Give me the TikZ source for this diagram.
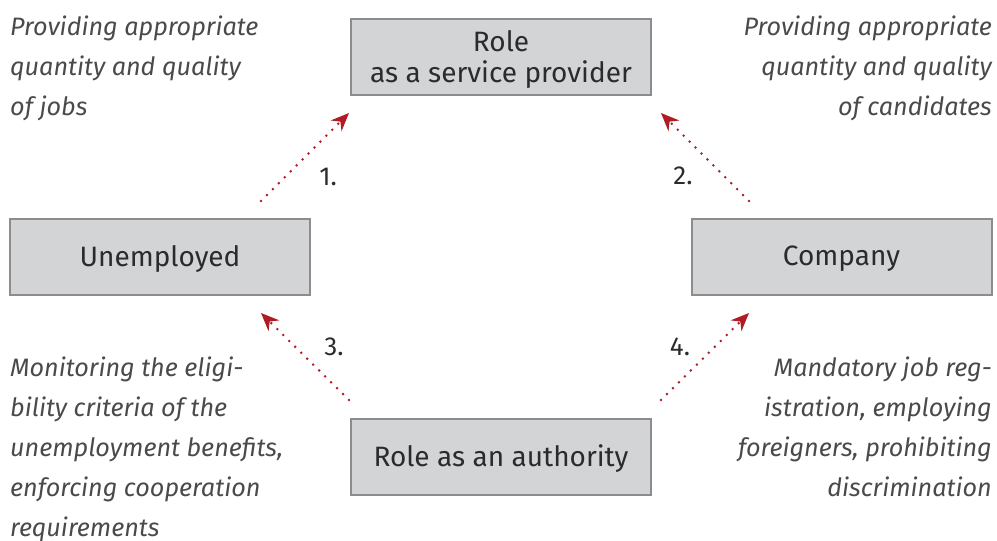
\documentclass[tikz,border=0pt]{standalone}
\usepackage{fontspec}
\setmainfont{Fira Sans}
\usetikzlibrary{positioning, arrows.meta}
\usepackage{xcolor}
\definecolor{boxbg}{HTML}{D3D4D6}
\definecolor{boxline}{HTML}{8C8C8E}
\definecolor{boxtext}{HTML}{2B2B2B}
\definecolor{notetext}{HTML}{4A4A4A}
\definecolor{flowcol}{HTML}{B01C24}

\begin{document}
\begin{tikzpicture}[x=1pt, y=-1pt,
  rolebox/.style={rectangle, draw=boxline, line width=2pt, fill=boxbg, text=boxtext, minimum width=300pt, minimum height=76pt, inner sep=0pt, align=center, font=\fontsize{28}{31}\selectfont},
  note/.style={inner sep=0pt, text=notetext, font=\fontsize{25.2}{40}\selectfont\itshape},
  steplabel/.style={inner sep=0pt, text=boxtext, font=\fontsize{26}{28}\selectfont},
  flow/.style={draw=flowcol, line width=2.8pt, line cap=round, dash pattern=on 0pt off 8.4pt, -{Stealth[length=18pt, width=15pt, flowcol]}}]
\useasboundingbox (0,0) rectangle (997,541);
\node[rolebox, text depth=0pt] (provider) at (501,56.5) {Role\\as a service provider};
\node[rolebox, text depth=3pt] (unemployed) at (160,257) {Unemployed};
\node[rolebox, text depth=2pt] (company) at (841.5,257) {Company};
\node[rolebox, text depth=2pt] (authority) at (501,457) {Role as an authority};
\node[note, anchor=north west, align=left] (jobsnote) at (10,15.5) {Providing appropriate\\quantity and quality\\of jobs};
\node[note, anchor=north east, align=right] (candnote) at (992,15.5) {Providing appropriate\\quantity and quality\\of candidates};
\node[note, anchor=north west, align=left] (monitornote) at (10,357) {Monitoring the eligi-\\bility criteria of the\\unemployment benefits,\\enforcing cooperation\\requirements};
\node[note, anchor=north east, align=right] (mandatenote) at (992,357) {Mandatory job reg-\\istration, employing\\foreigners, prohibiting\\discrimination};
\coordinate (tail1) at (261,201);
\coordinate (head1) at (349,113);
\coordinate (tail2) at (749,201);
\coordinate (head2) at (661,113);
\coordinate (tail3) at (349,400);
\coordinate (head3) at (261,313);
\coordinate (tail4) at (661,400);
\coordinate (head4) at (749,313);
\draw[flow] (tail1) -- (head1);
\draw[flow] (tail2) -- (head2);
\draw[flow] (tail3) -- (head3);
\draw[flow] (tail4) -- (head4);
\node[steplabel] (one) at (328,177) {1.};
\node[steplabel] (two) at (683,176) {2.};
\node[steplabel] (three) at (334,347) {3.};
\node[steplabel] (four) at (680,347) {4.};
\end{tikzpicture}
\end{document}
